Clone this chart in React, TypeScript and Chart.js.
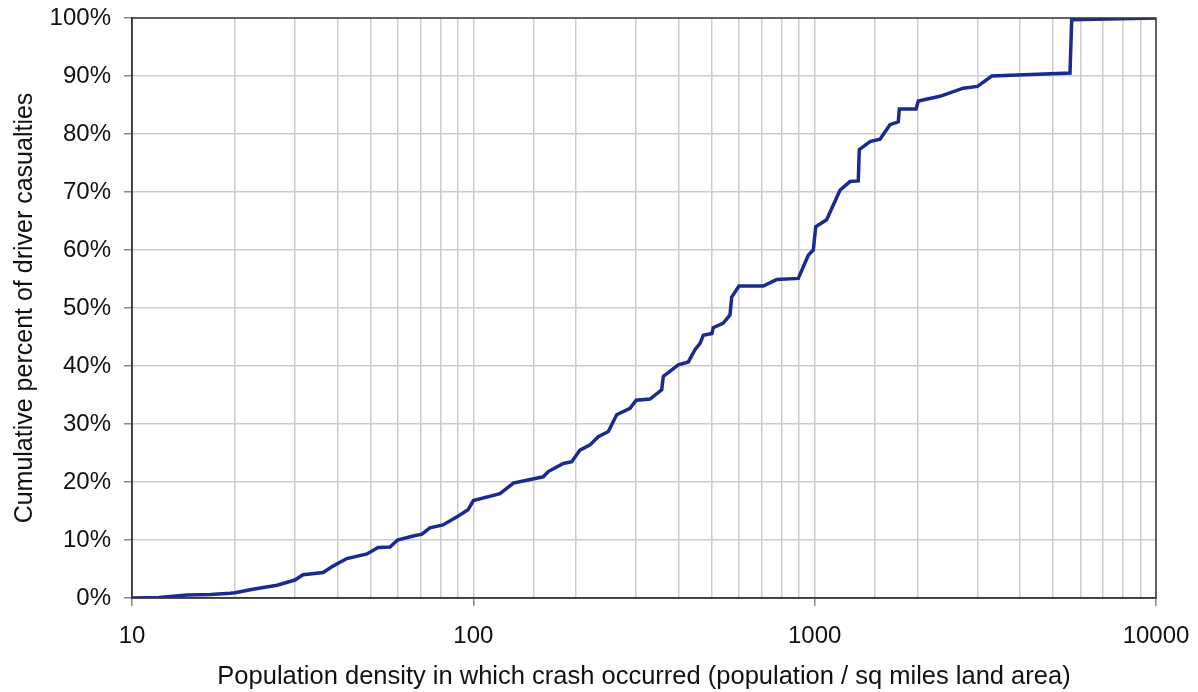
import React, { useEffect, useRef } from "react";
import { Chart, registerables } from "chart.js";

Chart.register(...registerables);

const densities: number[] = [
  10, 12, 14.5, 17, 19.4, 20, 22.6, 26.6, 30, 31.7, 36.3, 38.8, 42.6, 48.8, 52.6, 57, 60, 66.6, 70.7,
  74.6, 81.5, 89.6, 96.5, 100, 119.7, 131, 143.3, 160.3, 165.8, 183.5, 194.2, 205.3, 219.7, 232.3,
  248.6, 263, 287.7, 300, 329.3, 356.3, 360.2, 398.6, 426.4, 446, 461.5, 471.7, 500, 504.6, 539.9,
  564.9, 571.4, 600, 707, 774, 895.4, 957.8, 990.9, 1007, 1084, 1186, 1269, 1342, 1351, 1452, 1554,
  1662, 1758, 1770, 1982, 2012, 2329, 2726, 3000, 3302, 5598, 5663, 10000,
];
const cumulativePct: number[] = [
  0, 0.1, 0.5, 0.6, 0.8, 0.9, 1.5, 2.2, 3.1, 4.0, 4.4, 5.5, 6.8, 7.6, 8.7, 8.8, 10, 10.7, 11,
  12.1, 12.6, 14, 15.2, 16.8, 18.0, 19.8, 20.3, 20.9, 21.8, 23.2, 23.5, 25.5, 26.4, 27.8,
  28.7, 31.6, 32.7, 34.1, 34.3, 35.9, 38.2, 40.2, 40.7, 42.8, 43.9, 45.3, 45.6, 46.6, 47.4,
  48.8, 51.9, 53.8, 53.8, 54.9, 55.1, 59.1, 60, 64, 65.2, 70.3, 71.8, 71.9, 77.3, 78.7, 79.1,
  81.6, 82.1, 84.3, 84.3, 85.7, 86.5, 87.9, 88.2, 90, 90.5, 99.7, 100,
];
const xMajorTicks: number[] = [10, 100, 1000, 10000];
const xTitle = "Population density in which crash occurred (population / sq miles land area)";
const yTitle = "Cumulative percent of driver casualties";

const FONT = "'Liberation Sans', Arial, sans-serif";

const isMajor = (v: number) => xMajorTicks.some((m) => Math.abs(m - v) < 1e-6 * m);

const borderPlugin = {
  id: "plotBorder",
  afterDraw(chart: any) {
    const { ctx, chartArea } = chart;
    ctx.save();
    ctx.strokeStyle = "#3a3a3a";
    ctx.lineWidth = 1.5;
    ctx.strokeRect(chartArea.left, chartArea.top, chartArea.right - chartArea.left, chartArea.bottom - chartArea.top);
    ctx.restore();
  },
};

export default function App() {
  const ref = useRef<HTMLCanvasElement | null>(null);
  useEffect(() => {
    if (!ref.current) return;
    const chart = new Chart(ref.current, {
      type: "scatter",
      data: {
        datasets: [
          {
            data: densities.map((x, i) => ({ x, y: cumulativePct[i] })),
            showLine: true,
            borderColor: "#1a2a90",
            borderWidth: 3.5,
            pointRadius: 0,
            tension: 0,
            fill: false,
          },
        ],
      },
      options: {
        animation: false,
        responsive: false,
        maintainAspectRatio: false,
        layout: { padding: { left: 0, top: 18, right: 42, bottom: 0 } },
        plugins: { legend: { display: false }, tooltip: { enabled: false } },
        scales: {
          x: {
            type: "logarithmic",
            min: 10,
            max: 10000,
            afterFit: (s: any) => {
              s.height = 94;
              s.paddingLeft = 0;
              s.paddingRight = 0;
            },
            grid: {
              color: "#cccccc",
              lineWidth: 1.5,
              tickLength: 8,
              tickColor: (c: any) => (c.tick && isMajor(c.tick.value) ? "#888888" : "rgba(0,0,0,0)"),
            },
            border: { color: "#3a3a3a", width: 1.5 },
            ticks: {
              autoSkip: false,
              maxRotation: 0,
              padding: 16,
              color: "#111111",
              font: { family: FONT, size: 24 },
              callback: (v: any) => (isMajor(Number(v)) ? String(Math.round(Number(v))) : ""),
            },
            title: {
              display: true,
              text: xTitle,
              color: "#111111",
              font: { family: FONT, size: 25.5 },
              padding: { top: 0, bottom: 0 },
            },
          },
          y: {
            min: 0,
            max: 100,
            afterFit: (s: any) => {
              s.width = 132;
              s.paddingTop = 0;
              s.paddingBottom = 0;
            },
            grid: { color: "#cccccc", lineWidth: 1.5, tickLength: 8, tickColor: "#888888" },
            border: { color: "#3a3a3a", width: 1.5 },
            ticks: {
              stepSize: 10,
              padding: 13,
              color: "#111111",
              font: { family: FONT, size: 24 },
              callback: (v: any) => `${v}%`,
            },
            title: {
              display: true,
              text: yTitle,
              color: "#111111",
              font: { family: FONT, size: 25 },
              padding: { top: 10, bottom: 0 },
            },
          },
        },
      },
      plugins: [borderPlugin],
    } as any);
    return () => chart.destroy();
  }, []);
  return (
    <div style={{ position: "fixed", left: 0, top: 0, width: 1198, height: 692, background: "#ffffff" }}>
      <canvas ref={ref} width={1198} height={692} style={{ display: "block", width: 1198, height: 692 }} />
    </div>
  );
}
